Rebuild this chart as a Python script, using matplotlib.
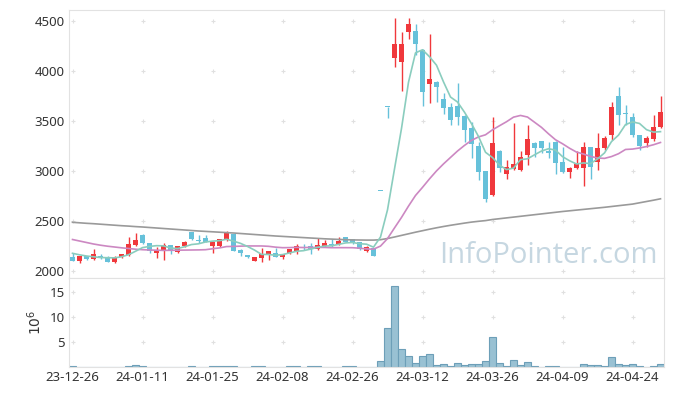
# candle chart with moving averages + volume panel
import numpy as np
import pandas as pd
import matplotlib
matplotlib.use('Agg')
from matplotlib import pyplot as plt

plt.rcParams['font.family'] = ['Noto Sans', 'DejaVu Sans']

# ---------- data ----------
holidays = ['2023-12-29', '2024-01-01', '2024-02-09', '2024-02-12', '2024-03-01', '2024-04-10']
dates = pd.bdate_range('2023-12-26', '2024-04-30', freq='C', holidays=holidays)

opens = [2143, 2103, 2147, 2117, 2150, 2143, 2093, 2137, 2157, 2260,
         2360, 2277, 2183, 2203, 2260, 2193, 2250, 2387, 2310, 2327,
         2253, 2253, 2310, 2370, 2210, 2160, 2103, 2127, 2160, 2177,
         2143, 2177, 2203, 2240, 2250, 2220, 2253, 2275, 2270, 2337,
         2317, 2287, 2203, 2233, 2800, 3640, 4133, 4093, 4393, 4400,
         4210, 3867, 3887, 3720, 3643, 3653, 3553, 3427, 3253, 3000,
         2760, 3200, 2970, 3020, 3010, 3160, 3277, 3300, 3200, 3293,
         3093, 2993, 3027, 3027, 3237, 3093, 3227, 3360, 3750, 3580,
         3537, 3360, 3277, 3317, 3437]
highs = [2183, 2155, 2155, 2217, 2170, 2150, 2150, 2175, 2343, 2383,
         2370, 2280, 2237, 2283, 2265, 2255, 2300, 2390, 2360, 2360,
         2300, 2325, 2403, 2375, 2225, 2165, 2140, 2227, 2205, 2227,
         2175, 2225, 2270, 2270, 2283, 2327, 2310, 2320, 2337, 2345,
         2320, 2290, 2250, 2235, 2800, 3640, 4533, 4387, 4527, 4467,
         4220, 4367, 3900, 3777, 3677, 3877, 3560, 3493, 3293, 3005,
         3540, 3210, 3110, 3477, 3200, 3460, 3290, 3305, 3293, 3300,
         3243, 3040, 3203, 3293, 3240, 3383, 3350, 3693, 3843, 3660,
         3577, 3365, 3350, 3560, 3750]
lows = [2100, 2077, 2110, 2110, 2117, 2088, 2083, 2130, 2150, 2250,
        2270, 2183, 2130, 2110, 2170, 2180, 2245, 2310, 2280, 2290,
        2183, 2245, 2300, 2200, 2150, 2130, 2098, 2093, 2110, 2140,
        2120, 2170, 2175, 2210, 2167, 2210, 2245, 2245, 2260, 2290,
        2270, 2215, 2195, 2150, 2800, 3530, 4043, 3800, 4320, 4160,
        3653, 3677, 3687, 3567, 3460, 3460, 3293, 3127, 2910, 2693,
        2753, 2987, 2920, 3015, 3000, 3060, 3143, 3177, 3127, 2967,
        2985, 2927, 3020, 2850, 2917, 3010, 3215, 3310, 3460, 3460,
        3343, 3210, 3243, 3303, 3430]
closes = [2103, 2150, 2117, 2167, 2137, 2093, 2143, 2170, 2270, 2310,
          2277, 2203, 2207, 2260, 2203, 2250, 2293, 2317, 2297, 2293,
          2293, 2317, 2387, 2203, 2183, 2137, 2137, 2170, 2200, 2143,
          2170, 2220, 2253, 2230, 2220, 2260, 2283, 2265, 2303, 2293,
          2283, 2220, 2243, 2153, 2800, 3640, 4267, 4267, 4467, 4267,
          3793, 3920, 3843, 3633, 3510, 3543, 3410, 3270, 2993, 2720,
          3280, 3033, 3043, 3070, 3143, 3320, 3233, 3233, 3183, 3077,
          2993, 3027, 3070, 3237, 3043, 3227, 3327, 3637, 3560, 3570,
          3360, 3250, 3327, 3437, 3593]
# volume in millions of shares
volumes = [0.15, 0, 0, 0, 0, 0, 0, 0, 0.15, 0.5,
           0.15, 0, 0, 0, 0, 0, 0, 0.15, 0, 0,
           0.15, 0.15, 0.15, 0.15, 0, 0, 0.15, 0.15, 0, 0,
           0, 0.15, 0.15, 0, 0.15, 0.15, 0, 0, 0, 0.15,
           0.15, 0, 0, 0, 1.2, 7.9, 16.2, 3.7, 2.3, 0.9,
           2.3, 2.7, 0.5, 0.7, 0.3, 0.9, 0.5, 0.7, 0.7, 1.3,
           6.1, 0.9, 0.3, 1.5, 0.5, 1.1, 0.3, 0.1, 0.3, 0.3,
           0.1, 0, 0.1, 0.7, 0.5, 0.5, 0.3, 2.1, 0.7, 0.5,
           0.7, 0.3, 0.1, 0.3, 0.7]

# moving average values before enough history is in view
ma5_head = [2177, 2162, 2150, 2142]
ma20_head = [2315, 2300, 2285, 2270, 2258, 2248, 2240, 2232, 2225, 2218,
             2213, 2210, 2208, 2206, 2207, 2208, 2209, 2210, 2211]
# long moving average (history starts before the window)
ma_long = [2487, 2482, 2477, 2473, 2468, 2463, 2458, 2453, 2449, 2444,
           2440, 2435, 2430, 2425, 2420, 2415, 2410, 2405, 2400, 2396,
           2392, 2388, 2384, 2380, 2375, 2370, 2365, 2360, 2355, 2350,
           2346, 2342, 2338, 2334, 2330, 2326, 2322, 2319, 2316, 2313,
           2311, 2310, 2309, 2309, 2313, 2325, 2340, 2356, 2372, 2388,
           2403, 2418, 2432, 2445, 2457, 2468, 2479, 2489, 2497, 2504,
           2515, 2523, 2531, 2539, 2547, 2555, 2563, 2571, 2579, 2587,
           2595, 2602, 2609, 2616, 2623, 2630, 2637, 2645, 2653, 2661,
           2669, 2682, 2695, 2708, 2722]

# ---------- processing ----------
df = pd.DataFrame({'open': opens, 'high': highs, 'low': lows,
                   'close': closes, 'vol': volumes}, index=dates)
ma5 = df['close'].rolling(5).mean().to_numpy()
ma5[:len(ma5_head)] = ma5_head
ma20 = df['close'].rolling(20).mean().to_numpy()
ma20[:len(ma20_head)] = ma20_head

x = np.arange(len(df))
up = df['close'] > df['open']
red, blue = '#f0383c', '#66c1da'
colors = np.where(up, red, blue)

# ---------- figure ----------
fig = plt.figure(figsize=(6.73, 3.96), dpi=100)
W, H = 673, 396
left, right = 69 / W, 664 / W
ax = fig.add_axes([left, 1 - 278 / H, right - left, (278 - 10) / H])
axv = fig.add_axes([left, 1 - 367 / H, right - left, (367 - 278) / H], sharex=ax)

# price panel
ax.vlines(x, df['low'], df['high'], colors=colors, linewidth=1, zorder=2)
body_lo = np.minimum(df['open'], df['close'])
body_h = np.maximum(np.abs(df['close'] - df['open']), 10)
ax.bar(x, body_h, bottom=body_lo, width=0.72, color=colors, linewidth=0, zorder=3)

ax.plot(x, ma_long, color='#9a9a9a', linewidth=1.2, zorder=4)
ax.plot(x, ma20, color='#cc88c2', linewidth=1.2, zorder=4)
ax.plot(x, ma5, color='#8acdbe', linewidth=1.2, zorder=4)

ax.text(0.99, 0.085, 'InfoPointer.com', transform=ax.transAxes, ha='right', va='center',
        fontsize=21, color='#c6d7e1', family=['Open Sans', 'DejaVu Sans'], zorder=1)

ax.set_xlim(-0.5, len(df) - 0.5)
ax.set_ylim(1930, 4610)
yt = [2000, 2500, 3000, 3500, 4000, 4500]
ax.set_yticks(yt)

# volume panel
axv.bar(x, df['vol'], width=1.0, color='#99c1d3', edgecolor='#6d9fb8', linewidth=0.8, zorder=2)
axv.set_ylim(0, 17.8)
vt = [5, 10, 15]
axv.set_yticks(vt)
axv.set_ylabel('$10^6$', fontsize=10, color='#333333', labelpad=3)

xt = x[::10]
axv.set_xticks(xt)
axv.set_xticklabels(dates[::10].strftime('%y-%m-%d'))
plt.setp(ax.get_xticklabels(), visible=False)

# '+' marks instead of grid lines
for a, ticks in ((ax, yt), (axv, vt)):
    gx, gy = np.meshgrid(xt, ticks)
    a.scatter(gx.ravel(), gy.ravel(), marker='+', s=10, color='#e0e0e0', linewidths=0.8, zorder=0)
    for s in a.spines.values():
        s.set_color('#e2e2e2')
    a.tick_params(length=0, labelsize=9.5, labelcolor='#333333', pad=3)

plt.savefig('out.png', dpi=100)
